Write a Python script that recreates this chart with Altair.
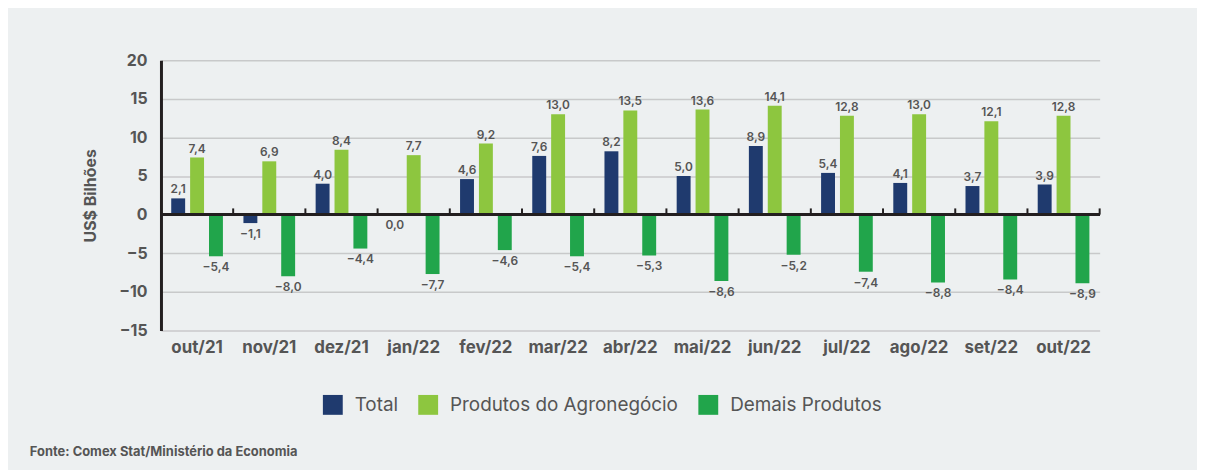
import altair as alt
import pandas as pd

months = ["out/21", "nov/21", "dez/21", "jan/22", "fev/22", "mar/22", "abr/22",
          "mai/22", "jun/22", "jul/22", "ago/22", "set/22", "out/22"]
total = [2.1, -1.1, 4.0, 0.0, 4.6, 7.6, 8.2, 5.0, 8.9, 5.4, 4.1, 3.7, 3.9]
agro = [7.4, 6.9, 8.4, 7.7, 9.2, 13.0, 13.5, 13.6, 14.1, 12.8, 13.0, 12.1, 12.8]
demais = [-5.4, -8.0, -4.4, -7.7, -4.6, -5.4, -5.3, -8.6, -5.2, -7.4, -8.8, -8.4, -8.9]
series_names = ["Total", "Produtos do Agronegócio", "Demais Produtos"]
series_colors = ["#1f3a6e", "#8dc63f", "#21a54b"]
y_ticks = [-15, -10, -5, 0, 5, 10, 15, 20]
source_text = "Fonte: Comex Stat/Ministério da Economia"

rows = []
for name, vals in zip(series_names, [total, agro, demais]):
    for m, v in zip(months, vals):
        rows.append({
            "mes": m,
            "serie": name,
            "valor": v,
            "rotulo": f"{v:.1f}".replace(".", ",").replace("-", "\u2212"),
        })
df = pd.DataFrame(rows)
df_months = pd.DataFrame({"mes": months})

FONT = "Inter"
GRAY = "#555555"
DARK = "#231f20"

x_scale = alt.Scale(domain=months, paddingInner=0, paddingOuter=0)
y_scale = alt.Scale(domain=[-15, 20], nice=False, zero=False)

x_axis = alt.Axis(title=None, labelAngle=0, labelFontSize=17, labelFontWeight="bold",
                  labelColor=GRAY, labelPadding=9, labelFont=FONT,
                  ticks=False, domain=False, grid=False)
y_axis = alt.Axis(title="US$ Bilhões", values=y_ticks, labelFontSize=16,
                  labelFontWeight="bold", labelColor=GRAY, labelFont=FONT,
                  labelPadding=14, labelOverlap=False, labelFlush=False,
                  ticks=False, domain=True, domainColor=DARK,
                  domainWidth=3, grid=True, gridColor="#c8c9ca", gridWidth=1.5,
                  titleFont=FONT, titleFontSize=16, titleFontWeight="bold",
                  titleColor=GRAY, titleX=-71, titleY=136, titleAngle=-90,
                  titleBaseline="middle")

X = alt.X("mes:N", sort=months, scale=x_scale, axis=x_axis)
XO = alt.XOffset("serie:N", sort=series_names,
                 scale=alt.Scale(domain=series_names, paddingInner=0.263, paddingOuter=0.543))
Y = alt.Y("valor:Q", scale=y_scale, axis=y_axis)

base = alt.Chart(df)

bars = base.mark_bar().encode(
    x=X, xOffset=XO, y=Y,
    color=alt.Color("serie:N", sort=series_names,
                    scale=alt.Scale(domain=series_names, range=series_colors),
                    legend=alt.Legend(title=None, orient="none", direction="horizontal",
                                      legendX=163, legendY=337, columns=3,
                                      symbolType="square", symbolSize=400,
                                      symbolStrokeWidth=0, labelFont=FONT,
                                      labelFontSize=19, labelColor=GRAY,
                                      labelLimit=400, labelOffset=12,
                                      columnPadding=20)),
)

text_pos = base.mark_text(baseline="alphabetic", dy=-5, fontSize=12, fontWeight=600,
                          color=GRAY, font=FONT).encode(
    x=X, xOffset=XO, y=Y, text="rotulo:N"
).transform_filter(alt.datum.valor > 0)

text_neg = base.mark_text(baseline="top", dy=6, fontSize=12, fontWeight=600,
                          color=GRAY, font=FONT).encode(
    x=X, xOffset=XO, y=Y, text="rotulo:N"
).transform_filter(alt.datum.valor <= 0)

zero_line = alt.Chart(df_months).mark_rule(color=DARK, strokeWidth=3).encode(
    y=alt.Y(datum=0, scale=y_scale, axis=y_axis)
)

ticks = alt.Chart(df_months).mark_rule(color=DARK, strokeWidth=2).encode(
    x=alt.X("mes:N", sort=months, scale=x_scale, axis=x_axis, bandPosition=0),
    y=alt.Y(datum=0, scale=y_scale, axis=y_axis),
    y2=alt.Y2(datum=0.8),
)

end_tick = alt.Chart(df_months.head(1)).mark_rule(color=DARK, strokeWidth=2).encode(
    x=alt.value(945),
    y=alt.Y(datum=0, scale=y_scale, axis=y_axis),
    y2=alt.Y2(datum=0.8),
)

chart = alt.layer(bars, zero_line, ticks, end_tick, text_pos, text_neg).properties(
    width=945, height=272,
    padding={"left": 154, "top": 51, "right": 98, "bottom": 139},
    autosize=alt.AutoSizeParams(type="none"),
    background="#edf0f1",
    title=alt.TitleParams(source_text, orient="bottom", anchor="start", frame="group",
                          dx=-132, offset=31, fontSize=13, font=FONT,
                          fontWeight="bold", color=GRAY),
).configure_view(stroke=None)

chart.save("out.html", embed_options={"renderer": "svg", "actions": False})
